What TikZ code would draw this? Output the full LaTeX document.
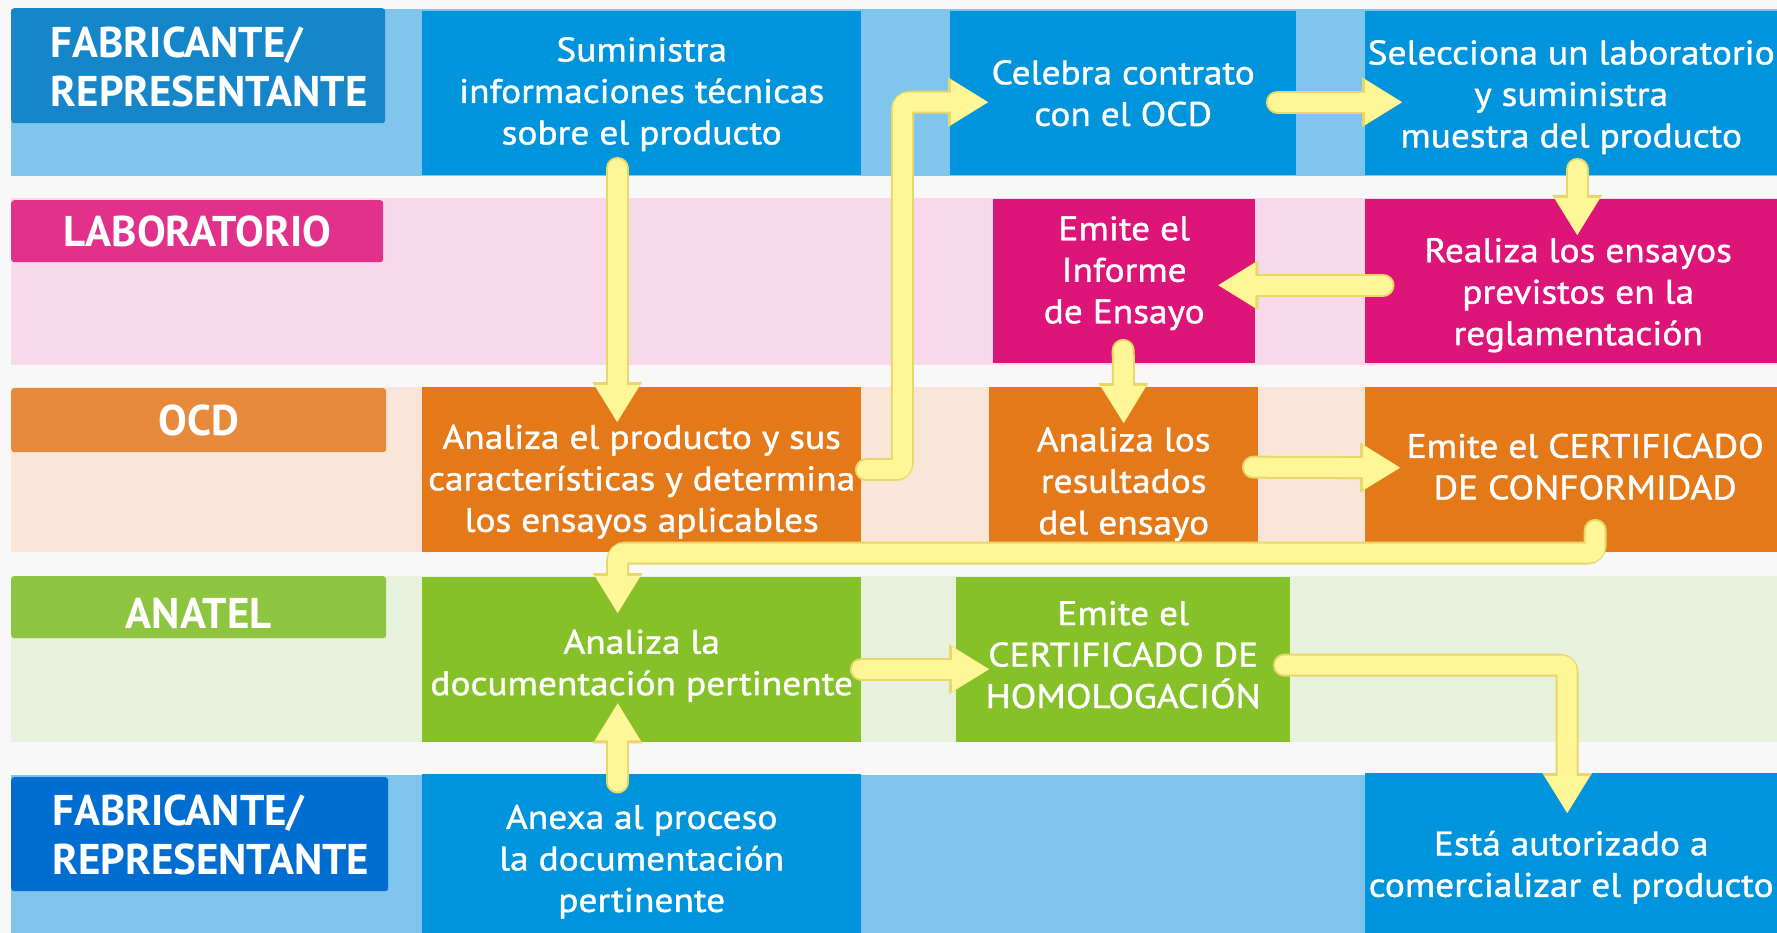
\documentclass[tikz,border=0pt]{standalone}
\usepackage{fontspec}
\setmainfont{PT Sans}
\newfontfamily\bodyfont{PT Sans}[FakeStretch=1.1,FakeBold=1.2]
\usetikzlibrary{arrows.meta,calc}
\definecolor{bgw}{HTML}{F8F8F8}
\definecolor{bandA}{HTML}{80C5EC}
\definecolor{bandB}{HTML}{F7D9E9}
\definecolor{bandC}{HTML}{F9E6D9}
\definecolor{bandD}{HTML}{E8F1DB}
\definecolor{bandE}{HTML}{7FC4EC}
\definecolor{cblue}{HTML}{0094DC}
\definecolor{cmag}{HTML}{DE1578}
\definecolor{corange}{HTML}{E4791A}
\definecolor{cgreen}{HTML}{86C12A}
\definecolor{lblueA}{HTML}{1686CA}
\definecolor{lmag}{HTML}{E1318B}
\definecolor{lorange}{HTML}{E88A3B}
\definecolor{lgreen}{HTML}{8DC541}
\definecolor{lblueB}{HTML}{006DD1}
\definecolor{yfill}{HTML}{FFF697}
\definecolor{yedge}{HTML}{E8D86A}
\newcommand\yarrow[1]{\draw[yout] #1; \draw[yin] #1;}
\begin{document}
\begin{tikzpicture}[x=1pt,y=-1pt,
  lab/.style={rounded corners=3pt, inner sep=0pt, anchor=north west},
  labtxt/.style={text=white, font=\fontsize{43}{49}\selectfont\bfseries, inner sep=0pt, align=left},
  box/.style={inner sep=0pt, anchor=north west},
  txt/.style={text=white, font=\fontsize{34}{41.5}\selectfont\bodyfont, inner sep=0pt, align=center},
  yout/.style={draw=yedge, line width=23pt, line cap=round, rounded corners=8pt, -{Triangle[width=50pt,length=40pt,line width=0pt]}},
  yin/.style={draw=yfill, line width=19pt, line cap=round, rounded corners=6pt, -{Triangle[width=45pt,length=37pt,line width=0pt]}}
 ]
\useasboundingbox (0,0) rectangle (1777,933);
\fill[bgw] (0,0) rectangle (1777,933);
\fill[bandA] (11,9) rectangle (1777,176);
\fill[bandB] (11,198) rectangle (1777,365);
\fill[bandC] (11,387) rectangle (1777,552);
\fill[bandD] (11,576) rectangle (1777,742);
\fill[bandE] (11,775) rectangle (1777,933);

% lane labels
\node[lab, fill=lblueA, minimum width=374pt, minimum height=115pt] (l1) at (11,8) {};
\node[lab, fill=lmag, minimum width=372pt, minimum height=62pt] (l2) at (11,200) {};
\node[lab, fill=lorange, minimum width=375pt, minimum height=64pt] (l3) at (11,388) {};
\node[lab, fill=lgreen, minimum width=375pt, minimum height=62pt] (l4) at (11,576) {};
\node[lab, fill=lblueB, minimum width=377pt, minimum height=114pt] (l5) at (11,777) {};
\node[labtxt] (l1t) at ($(l1.center)+(11,1)$) {FABRICANTE/\\REPRESENTANTE};
\node[labtxt] (l2t) at (l2.center) {LABORATORIO};
\node[labtxt] (l3t) at (l3.center) {OCD};
\node[labtxt] (l4t) at ($(l4.center)+(0,6)$) {ANATEL};
\node[labtxt] (l5t) at ($(l5.center)+(11,1)$) {FABRICANTE/\\REPRESENTANTE};

% process boxes
\node[box, fill=cblue, minimum width=439pt, minimum height=164pt] (s1) at (422,11) {};
\node[box, fill=cblue, minimum width=346pt, minimum height=164pt] (c1) at (950,11) {};
\node[box, fill=cblue, minimum width=412pt, minimum height=164pt] (s2) at (1365,11) {};
\node[box, fill=cmag, minimum width=262pt, minimum height=164pt] (e1) at (993,199) {};
\node[box, fill=cmag, minimum width=412pt, minimum height=164pt] (r1) at (1365,199) {};
\node[box, fill=corange, minimum width=439pt, minimum height=165pt] (a1) at (422,387) {};
\node[box, fill=corange, minimum width=269pt, minimum height=156pt] (a2) at (989,387) {};
\node[box, fill=corange, minimum width=412pt, minimum height=165pt] (c2) at (1365,387) {};
\node[box, fill=cgreen, minimum width=439pt, minimum height=165pt] (d1) at (422,577) {};
\node[box, fill=cgreen, minimum width=334pt, minimum height=165pt] (h1) at (956,577) {};
\node[box, fill=cblue, minimum width=439pt, minimum height=159pt] (x1) at (422,774) {};
\node[box, fill=cblue, minimum width=412pt, minimum height=160pt] (z1) at (1365,773) {};

\node[txt] (s1t) at ($(s1.center)+(0,1)$) {Suministra\\informaciones técnicas\\sobre el producto};
\node[txt] (c1t) at (c1.center) {Celebra contrato\\con el OCD};
\node[txt] (s2t) at ($(s2.center)+(0,4)$) {Selecciona un laboratorio\\y suministra\\muestra del producto};
\node[txt] (e1t) at ($(e1.center)+(0,-8)$) {Emite el\\Informe\\de Ensayo};
\node[txt] (r1t) at ($(r1.center)+(7,14)$) {Realiza los ensayos\\previstos en la\\reglamentación};
\node[txt] (a1t) at ($(a1.center)+(0,12)$) {Analiza el producto y sus\\características y determina\\los ensayos aplicables};
\node[txt] (a2t) at ($(a2.center)+(0,19)$) {Analiza los\\resultados\\del ensayo};
\node[txt] (c2t) at ($(c2.center)+(14,-3)$) {Emite el CERTIFICADO\\DE CONFORMIDAD};
\node[txt] (d1t) at ($(d1.center)+(0,6)$) {Analiza la\\documentación pertinente};
\node[txt] (h1t) at ($(h1.center)+(0,-5)$) {Emite el\\CERTIFICADO DE\\HOMOLOGACIÓN};
\node[txt] (x1t) at ($(x1.center)+(0,8)$) {Anexa al proceso\\la documentación\\pertinente};
\node[txt] (z1t) at ($(z1.center)+(0,14)$) {Está autorizado a\\comercializar el producto};

% arrows
\yarrow{($(s1.south)+(-24.5,-7)$) -- ($(a1.north)+(-24.5,35)$)}
\yarrow{($(a1.east)+(5,0)$) -- ++(36,0) |- ($(c1.west)+(38,9)$)}
\yarrow{($(c1.east)+(-19,9)$) -- ($(s2.west)+(37,9)$)}
\yarrow{($(s2.south)+(6,-6)$) -- ($(r1.north)+(6,36)$)}
\yarrow{($(r1.west)+(18,4)$) -- ($(e1.east)+(-37,4)$)}
\yarrow{($(e1.south)+(-1,-13)$) -- ($(a2.north)+(0,36)$)}
\yarrow{($(a2.east)+(-5,2)$) -- ($(c2.west)+(35,-2)$)}
\yarrow{($(c2.south)+(24,-22)$) |- ($(d1.north)+(-24,-24)$) -- ($(d1.north)+(-24,36)$)}
\yarrow{($(x1.north)+(-24,8)$) -- ($(d1.south)+(-24,-39)$)}
\yarrow{($(d1.east)+(0,9.5)$) -- ($(h1.west)+(33,9.5)$)}
\yarrow{($(h1.east)+(-6,5.5)$) -| ($(z1.north)+(-4,40)$)}
\end{tikzpicture}
\end{document}
